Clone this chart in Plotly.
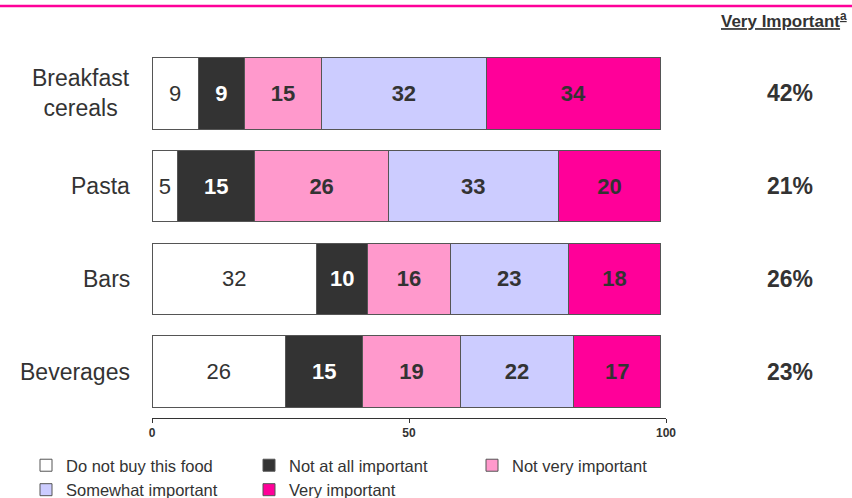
import plotly.graph_objects as go

# food categories, top to bottom
categories = ["Breakfast<br>cereals", "Pasta", "Bars", "Beverages"]

# % of respondents per answer
do_not_buy = [9, 5, 32, 26]
not_at_all = [9, 15, 10, 15]
not_very = [15, 26, 16, 19]
somewhat = [32, 33, 23, 22]
very = [34, 20, 18, 17]

# right-hand column
very_important_pct = ["42%", "21%", "26%", "23%"]

series = [
    ("Do not buy this food", do_not_buy, "#FFFFFF", "#333333", "normal"),
    ("Not at all important", not_at_all, "#333333", "#FFFFFF", "bold"),
    ("Not very important", not_very, "#FF99CC", "#333333", "bold"),
    ("Somewhat important", somewhat, "#CCCCFF", "#333333", "bold"),
    ("Very important", very, "#FF0099", "#333333", "bold"),
]

FONT = "Liberation Sans, Arial, sans-serif"

# plot area in pixels: x 152..666, y 47..418
def px_x(x):
    return (x - 152) / 514


def px_y(y):
    return (418 - y) / 371


fig = go.Figure()
for name, vals, color, txtcolor, weight in series:
    fig.add_trace(go.Bar(
        y=categories, x=vals, name=name, orientation="h",
        marker=dict(color=color, line=dict(color="#555555", width=1)),
        text=vals, texttemplate="%{x}",
        textposition="inside", insidetextanchor="middle",
        textfont=dict(family=FONT, size=22, color=txtcolor, weight=weight),
        hoverinfo="skip",
    ))

# category names: right-aligned block, multi-line text centred
for cat in categories:
    fig.add_annotation(
        x=px_x(132), xref="paper", y=cat, yref="y", text=cat,
        showarrow=False, xanchor="right", align="center",
        font=dict(family=FONT, size=23, color="#333333"),
    )

for cat, pct in zip(categories, very_important_pct):
    fig.add_annotation(
        x=px_x(790), xref="paper", y=cat, yref="y", text=pct,
        showarrow=False, xanchor="center",
        font=dict(family=FONT, size=23, color="#333333", weight="bold"),
    )

fig.add_annotation(
    x=px_x(849), xref="paper", y=px_y(20), yref="paper",
    text="<u>Very Important<sup>a</sup></u>",
    showarrow=False, xanchor="right", yanchor="middle",
    font=dict(family=FONT, size=17, color="#333333", weight="bold"),
)

# pink rule across the top
fig.add_shape(
    type="line", xref="paper", yref="paper",
    x0=px_x(0), x1=px_x(852), y0=px_y(6), y1=px_y(6),
    line=dict(color="#FF0099", width=2.5),
)

fig.update_layout(
    barmode="stack",
    bargap=0.23,
    width=852, height=498,
    margin=dict(l=152, r=186, t=47, b=80, autoexpand=False),
    paper_bgcolor="white", plot_bgcolor="white",
    font=dict(family=FONT, color="#333333"),
    uniformtext=dict(minsize=22, mode="show"),
    xaxis=dict(
        range=[0, 100], tickvals=[0, 50, 100], showgrid=False, zeroline=False,
        showline=True, linecolor="#333333", linewidth=1,
        ticks="outside", ticklen=4, tickcolor="#333333",
        tickfont=dict(family=FONT, size=12, color="#333333", weight="bold"),
    ),
    yaxis=dict(
        autorange="reversed", showgrid=False, showline=False,
        ticks="", showticklabels=False,
    ),
    legend=dict(
        orientation="h", xref="paper", yref="paper",
        x=px_x(26), y=px_y(448), xanchor="left", yanchor="top",
        traceorder="normal", entrywidth=178, entrywidthmode="pixels",
        itemwidth=30, tracegroupgap=0,
        font=dict(family=FONT, size=16.5, color="#333333"),
    ),
)

# the page body has an 8px default margin; drop it so the figure sits at 0,0
fig.write_html("out.html", config={"displayModeBar": False},
               post_script="document.body.style.margin='0';")
